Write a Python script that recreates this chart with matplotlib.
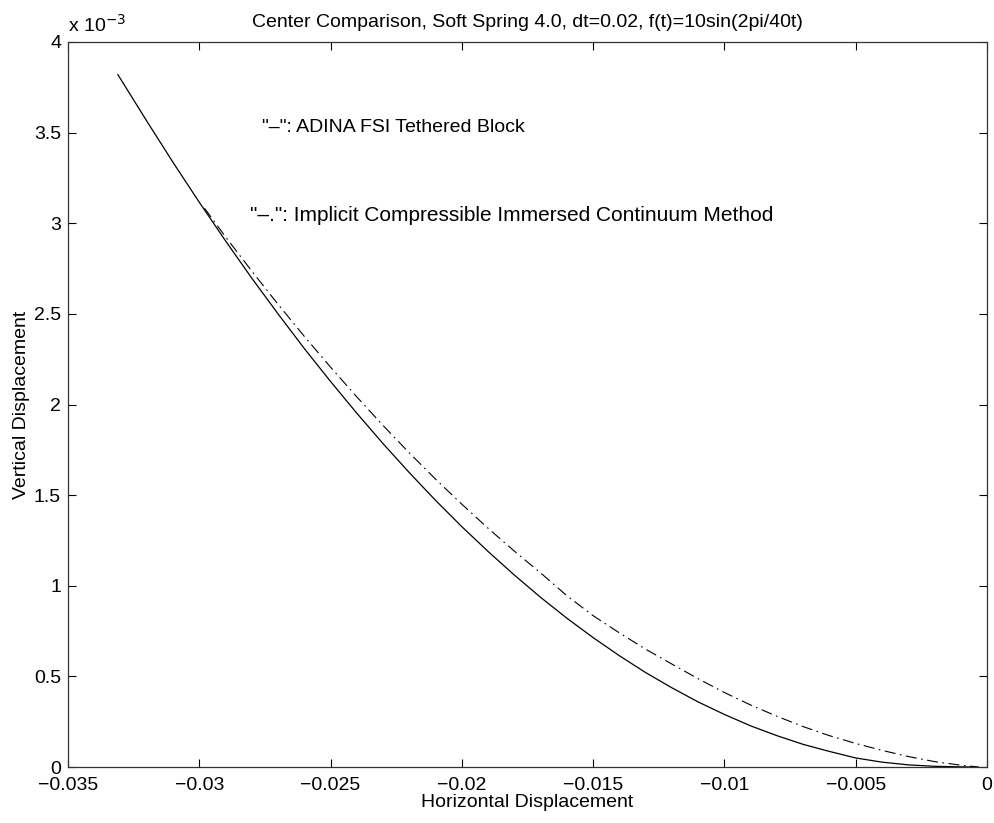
import matplotlib
matplotlib.use("Agg")
import matplotlib.pyplot as plt
from matplotlib.ticker import FuncFormatter

plt.rcParams['font.family'] = ['Liberation Sans', 'DejaVu Sans']

# ADINA FSI tethered block (solid), y in units of 1e-3
adina_x = [-0.0331, -0.032, -0.031, -0.030, -0.029, -0.028, -0.027, -0.026,
           -0.025, -0.024, -0.023, -0.022, -0.021, -0.020, -0.019, -0.018,
           -0.017, -0.016, -0.015, -0.014, -0.013, -0.012, -0.011, -0.010,
           -0.009, -0.008, -0.007, -0.006, -0.005, -0.004, -0.003, -0.002,
           -0.001, -0.0005]
adina_y = [3.82, 3.564, 3.336, 3.116, 2.903, 2.697, 2.500, 2.309,
           2.127, 1.952, 1.784, 1.624, 1.471, 1.326, 1.189, 1.059,
           0.936, 0.821, 0.714, 0.614, 0.521, 0.437, 0.359, 0.290,
           0.227, 0.173, 0.125, 0.086, 0.05, 0.027, 0.012, 0.004,
           0.001, 0.0]

# Implicit compressible immersed continuum method (dash-dot)
iccm_x = [-0.0298, -0.029, -0.028, -0.027, -0.026, -0.025, -0.024, -0.023,
          -0.022, -0.021, -0.020, -0.019, -0.018, -0.017, -0.016, -0.015,
          -0.014, -0.013, -0.012, -0.011, -0.010, -0.009, -0.008, -0.007,
          -0.006, -0.005, -0.004, -0.003, -0.002, -0.001, -0.0003]
iccm_y = [3.083, 2.925, 2.736, 2.553, 2.376, 2.206, 2.042, 1.884,
          1.733, 1.588, 1.450, 1.317, 1.191, 1.071, 0.945, 0.835,
          0.74, 0.65, 0.568, 0.487, 0.411, 0.342, 0.280, 0.223,
          0.173, 0.130, 0.092, 0.058, 0.03, 0.01, 0.0]

xticks = [-0.035, -0.03, -0.025, -0.02, -0.015, -0.01, -0.005, 0]
yticks = [0, 0.5, 1, 1.5, 2, 2.5, 3, 3.5, 4]

fig = plt.figure(figsize=(9.95, 8.23), dpi=100)
ax = fig.add_axes([0.0683, 0.068, 0.9237, 0.881])

ax.plot(adina_x, adina_y, '-', color='black', lw=0.9)
ax.plot(iccm_x, iccm_y, color='black', lw=0.8, dashes=(10, 4, 1.5, 4))

ax.set_xlim(-0.035, 0)
ax.set_ylim(0, 4)
ax.set_xticks(xticks)
ax.set_yticks(yticks)
ax.xaxis.set_major_formatter(FuncFormatter(lambda v, p: ('%g' % v).replace('-', '\u2212')))
ax.yaxis.set_major_formatter(FuncFormatter(lambda v, p: '%g' % v))
ax.tick_params(direction='in', length=6, width=0.8, top=True, right=True,
               labelsize=14)
ax.tick_params(axis='x', pad=7)
ax.tick_params(axis='y', pad=5)
for s in ax.spines.values():
    s.set_linewidth(0.9)
    s.set_color('#333333')

ax.set_title('Center Comparison, Soft Spring 4.0, dt=0.02, f(t)=10sin(2pi/40t)',
             fontsize=14, pad=11)
ax.set_xlabel('Horizontal Displacement', fontsize=14, labelpad=0)
ax.set_ylabel('Vertical Displacement', fontsize=14, labelpad=3)
ax.text(0.0, 1.008, 'x 10$^{-3}$', transform=ax.transAxes, fontsize=14,
        ha='left', va='bottom')

ax.text(-0.02761, 3.53, '"\u2013": ADINA FSI Tethered Block', fontsize=14,
        ha='left', va='center')
ax.text(-0.02807, 3.045, '"\u2013.": Implicit Compressible Immersed Continuum Method',
        fontsize=15, ha='left', va='center')

fig.savefig('out.png', dpi=100)
